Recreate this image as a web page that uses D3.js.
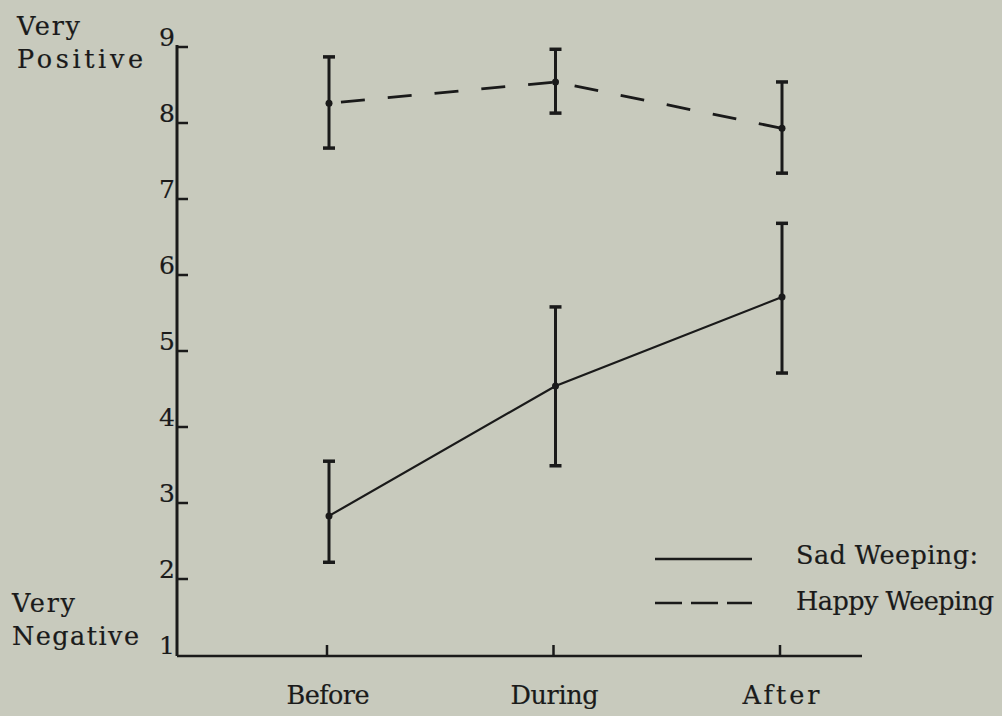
<!DOCTYPE html>
<html>
<head>
<meta charset="utf-8">
<script src="https://cdn.jsdelivr.net/npm/d3@7"></script>
<style>
  html, body { margin: 0; padding: 0; background: #c8cabd; }
  svg { display: block; }
  text { font-family: "DejaVu Serif", "Liberation Serif", serif; fill: #1a1a1a; stroke: #1a1a1a; stroke-width: 0.2px; }
</style>
</head>
<body>
<svg id="chart" width="1002" height="716"></svg>
<script>
// ---- data ----
const categories = ["Before", "During", "After"];
const yTicks = [1, 2, 3, 4, 5, 6, 7, 8, 9];
const happyMean  = [8.26, 8.54, 7.93];
const happyUpper = [8.87, 8.97, 8.54];
const happyLower = [7.67, 8.13, 7.34];
const sadMean  = [2.83, 4.54, 5.71];
const sadUpper = [3.55, 5.58, 6.68];
const sadLower = [2.22, 3.49, 4.71];
const legendLabels = ["Sad Weeping:", "Happy Weeping"];

const series = [
  { name: legendLabels[0], mean: sadMean, upper: sadUpper, lower: sadLower, dash: null, w: 182 },
  { name: legendLabels[1], mean: happyMean, upper: happyUpper, lower: happyLower, dash: "24 23", w: 198 }
];

const ink = "#1a1a1a";
const fs = 25.5;
const svg = d3.select("#chart");

const x = d3.scalePoint().domain(categories).range([329, 782]);
const y = d3.scaleLinear().domain([1, 9]).range([655, 47]);

const axisX0 = 177, axisX1 = 862;
const catWidth = { Before: 83, During: 88, After: 77 };

// y axis line
svg.append("line")
  .attr("x1", axisX0).attr("x2", axisX0)
  .attr("y1", y(9) - 2).attr("y2", y(1) + 1)
  .attr("stroke", ink).attr("stroke-width", 3);

// y ticks (pointing right)
svg.append("g").selectAll("line").data(yTicks.filter(d => d > 1)).join("line")
  .attr("x1", axisX0).attr("x2", axisX0 + 11)
  .attr("y1", d => y(d)).attr("y2", d => y(d))
  .attr("stroke", ink).attr("stroke-width", 2.5);

// y tick labels
svg.append("g").selectAll("text").data(yTicks).join("text")
  .attr("x", axisX0 - 2)
  .attr("y", d => y(d) - 1)
  .attr("text-anchor", "end")
  .attr("font-size", 25)
  .text(d => d);

// x axis line
svg.append("line")
  .attr("x1", axisX0).attr("x2", axisX1)
  .attr("y1", y(1) + 1).attr("y2", y(1) + 1)
  .attr("stroke", ink).attr("stroke-width", 2.5);

// x ticks (pointing up)
svg.append("g").selectAll("line").data(categories).join("line")
  .attr("x1", d => x(d) - 2).attr("x2", d => x(d) - 2)
  .attr("y1", y(1) + 1).attr("y2", y(1) - 10)
  .attr("stroke", ink).attr("stroke-width", 2.5);

// x labels
svg.append("g").selectAll("text").data(categories).join("text")
  .attr("x", d => x(d) - 1 - catWidth[d] / 2)
  .attr("y", 704)
  .attr("font-size", fs)
  .attr("textLength", d => catWidth[d])
  .attr("lengthAdjust", "spacing")
  .text(d => d);

// end labels
const endLabels = [
  { t: "Very", x: 17, y: 35, w: 63 },
  { t: "Positive", x: 17, y: 68, w: 126 },
  { t: "Very", x: 12, y: 612, w: 63 },
  { t: "Negative", x: 12, y: 645, w: 127 }
];
svg.append("g").selectAll("text").data(endLabels).join("text")
  .attr("x", d => d.x).attr("y", d => d.y)
  .attr("font-size", fs)
  .attr("textLength", d => d.w)
  .attr("lengthAdjust", "spacing")
  .text(d => d.t);

// series
const line = d3.line().x(d => x(d.c)).y(d => y(d.v));
series.forEach(s => {
  const pts = categories.map((c, i) => ({ c, v: s.mean[i], hi: s.upper[i], lo: s.lower[i] }));
  const g = svg.append("g");
  // error bars
  g.selectAll("line.bar").data(pts).join("line").attr("class", "bar")
    .attr("x1", d => x(d.c)).attr("x2", d => x(d.c))
    .attr("y1", d => y(d.hi)).attr("y2", d => y(d.lo))
    .attr("stroke", ink).attr("stroke-width", 3);
  g.selectAll("line.capT").data(pts).join("line").attr("class", "capT")
    .attr("x1", d => x(d.c) - 6).attr("x2", d => x(d.c) + 6)
    .attr("y1", d => y(d.hi)).attr("y2", d => y(d.hi))
    .attr("stroke", ink).attr("stroke-width", 3.5);
  g.selectAll("line.capB").data(pts).join("line").attr("class", "capB")
    .attr("x1", d => x(d.c) - 6).attr("x2", d => x(d.c) + 6)
    .attr("y1", d => y(d.lo)).attr("y2", d => y(d.lo))
    .attr("stroke", ink).attr("stroke-width", 3.5);
  // connecting line
  g.append("path").datum(pts)
    .attr("d", line)
    .attr("fill", "none")
    .attr("stroke", ink)
    .attr("stroke-width", s.dash ? 2.8 : 2.2)
    .attr("stroke-dasharray", s.dash)
    .attr("stroke-dashoffset", s.dash ? -12 : null);
  // mean markers
  g.selectAll("circle").data(pts).join("circle")
    .attr("cx", d => x(d.c)).attr("cy", d => y(d.v))
    .attr("r", 3.5).attr("fill", ink);
});

// legend
const legend = svg.append("g");
series.forEach((s, i) => {
  const ly = 559 + i * 44;
  legend.append("line")
    .attr("x1", 655).attr("x2", 752)
    .attr("y1", ly).attr("y2", ly)
    .attr("stroke", ink).attr("stroke-width", 2.6)
    .attr("stroke-dasharray", s.dash ? "27 9" : null);
  legend.append("text")
    .attr("x", 796).attr("y", ly + 5 + (i ? 2 : 0))
    .attr("font-size", fs)
    .attr("textLength", s.w)
    .attr("lengthAdjust", "spacing")
    .text(s.name);
});
</script>
</body>
</html>
